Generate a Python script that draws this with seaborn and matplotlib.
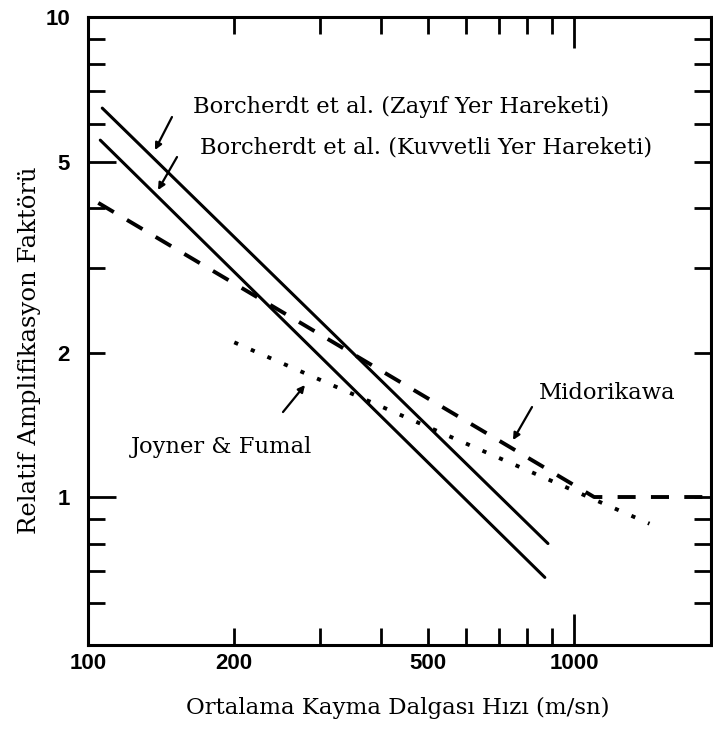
import matplotlib
matplotlib.use("Agg")
import matplotlib.pyplot as plt
import seaborn as sns
from matplotlib.ticker import FixedLocator, FuncFormatter, NullLocator

# ---- data ----
borcherdt_weak_v = [107, 884]
borcherdt_weak_a = [6.46, 0.80]
borcherdt_strong_v = [106, 871]
borcherdt_strong_a = [5.54, 0.68]
midorikawa_v = [105, 1100, 1914]
midorikawa_a = [4.1, 1.0, 1.0]
joyner_v = [200, 1430]
joyner_a = [2.1, 0.88]

x_major = [100, 1000]
x_minor = [200, 300, 400, 500, 600, 700, 800, 900]
x_labeled = [100, 200, 500, 1000]
y_major = [1, 5, 10]
y_minor = [0.6, 0.7, 0.8, 0.9, 2, 3, 4, 6, 7, 8, 9]
y_labeled = [1, 2, 5, 10]
y_right = [0.6, 0.7, 0.8, 0.9, 1, 2, 3, 4, 5, 6, 7, 8, 9]

sns.set_style("ticks")
plt.rcParams["font.family"] = ["DejaVu Serif", "Liberation Serif"]
plt.rcParams["lines.scale_dashes"] = False
for k in ["text.color", "axes.labelcolor", "xtick.color", "ytick.color"]:
    plt.rcParams[k] = "black"

fig = plt.figure(figsize=(7.13, 7.31), dpi=100)
ax = fig.add_axes([0.1234, 0.1176, 0.8738, 0.8591])

sns.lineplot(x=borcherdt_weak_v, y=borcherdt_weak_a, ax=ax, color="black", lw=2.2)
sns.lineplot(x=borcherdt_strong_v, y=borcherdt_strong_a, ax=ax, color="black", lw=2.2)
sns.lineplot(x=midorikawa_v, y=midorikawa_a, ax=ax, color="black", lw=2.8)
ax.lines[-1].set_dashes([13, 11])
sns.lineplot(x=joyner_v, y=joyner_a, ax=ax, color="black", lw=2.8)
ax.lines[-1].set_dashes([3, 10])

ax.set_xscale("log")
ax.set_yscale("log")
ax.set_xlim(100, 1914)
ax.set_ylim(0.4916, 10)

for s in ax.spines.values():
    s.set_visible(True)
    s.set_linewidth(2.2)
    s.set_color("black")

fmt = FuncFormatter(lambda v, p: f"{v:g}" if any(abs(v - t) < 1e-9 for t in x_labeled) else "")
ax.xaxis.set_major_locator(FixedLocator(x_major))
ax.xaxis.set_minor_locator(FixedLocator(x_minor))
ax.xaxis.set_major_formatter(fmt)
ax.xaxis.set_minor_formatter(fmt)

yfmt = FuncFormatter(lambda v, p: f"{v:g}" if any(abs(v - t) < 1e-9 for t in y_labeled) else "")
ax.yaxis.set_major_locator(FixedLocator(y_major))
ax.yaxis.set_minor_locator(FixedLocator(y_minor))
ax.yaxis.set_major_formatter(yfmt)
ax.yaxis.set_minor_formatter(yfmt)

ax.tick_params(axis="x", which="major", direction="in", length=22, width=2,
               top=True, bottom=True, pad=6)
ax.tick_params(axis="x", which="minor", direction="in", length=12, width=2,
               top=True, bottom=True, pad=6)
ax.tick_params(axis="y", which="major", direction="in", length=20, width=2,
               left=True, right=False, pad=13)
ax.tick_params(axis="y", which="minor", direction="in", length=12, width=2,
               left=True, right=False, pad=13)
for lab in ax.get_xticklabels(which="both") + ax.get_yticklabels(which="both"):
    lab.set_fontfamily(["Liberation Sans", "DejaVu Sans"])
    lab.set_fontweight("bold")
    lab.set_fontsize(16)
    lab.set_color("black")

sec = ax.secondary_yaxis("right")
sec.yaxis.set_major_locator(FixedLocator(y_right))
sec.yaxis.set_minor_locator(NullLocator())
sec.tick_params(which="both", direction="in", length=12, width=2, labelright=False)
sec.spines["right"].set_linewidth(2.2)

ax.set_xlabel("Ortalama Kayma Dalgası Hızı (m/sn)", fontsize=16.5, color="black")
ax.xaxis.set_label_coords(0.497, -0.083)
ax.set_ylabel("Relatif Amplifikasyon Faktörü", fontsize=17.5, color="black")
ax.yaxis.set_label_coords(-0.076, 0.47)

tkw = dict(transform=ax.transAxes, fontsize=16.3, va="center", ha="left", color="black")
ax.text(0.1685, 0.8567, "Borcherdt et al. (Zayıf Yer Hareketi)", **tkw)
ax.text(0.1798, 0.793, "Borcherdt et al. (Kuvvetli Yer Hareketi)", **tkw)
ax.text(0.069, 0.315, "Joyner & Fumal", **tkw)
ax.text(0.724, 0.401, "Midorikawa", **tkw)

akw = dict(xycoords="axes fraction", textcoords="axes fraction",
           arrowprops=dict(arrowstyle="-|>", lw=1.6, color="black", mutation_scale=10,
                           shrinkA=0, shrinkB=0))
ax.annotate("", xy=(0.1075, 0.7882), xytext=(0.1348, 0.8408), **akw)
ax.annotate("", xy=(0.1124, 0.7245), xytext=(0.1429, 0.7771), **akw)
ax.annotate("", xy=(0.3483, 0.4140), xytext=(0.3130, 0.3710), **akw)
ax.annotate("", xy=(0.6822, 0.3264), xytext=(0.7127, 0.3790), **akw)

fig.savefig("out.png", dpi=100)
